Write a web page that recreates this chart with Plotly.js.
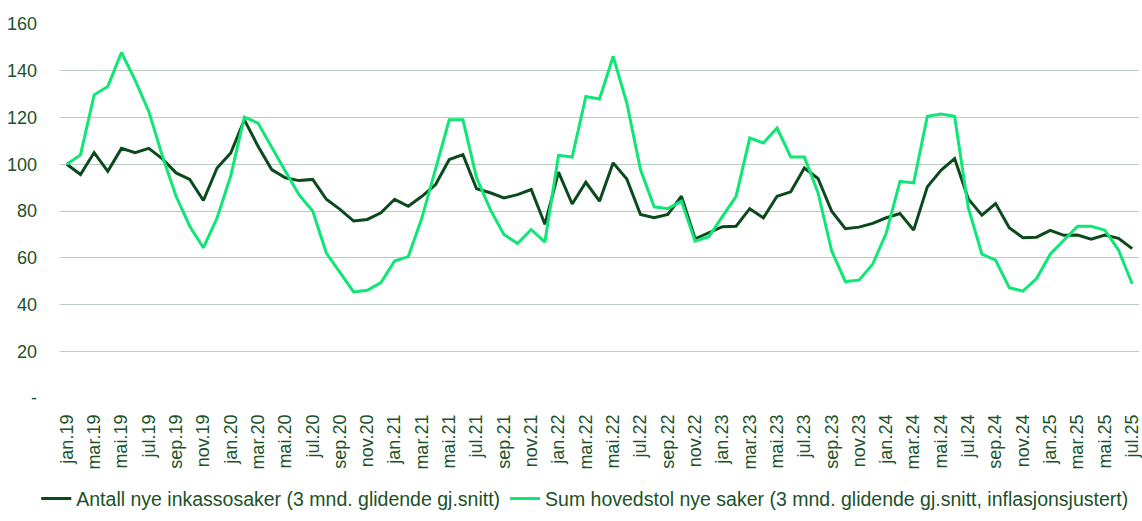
<!DOCTYPE html>
<html>
<head>
<meta charset="utf-8">
<script src="https://cdn.plot.ly/plotly-3.0.1.min.js"></script>
<style>html,body{margin:0;padding:0;background:#fff}#chart{width:1142px;height:521px}</style>
</head>
<body>
<div id="chart"></div>
<script>
const monthNames = ['jan','feb','mar','apr','mai','jun','jul','aug','sep','okt','nov','des'];
const years = ['19','20','21','22','23','24','25'];
const categories = [];
years.forEach(y => monthNames.forEach(m => categories.push(m + '.' + y)));
categories.length = 79; // jan.19 .. jul.25

const antallNyeSaker = [
 100,95.6,105,97,106.8,105,106.8,102.3,96.3,93.5,84.5,98.4,
 104.8,119,107.7,97.7,94.2,93,93.5,85,80.7,75.7,76.4,79.2,
 85,82,86.3,91.3,102,104.1,89.5,87.8,85.6,87,89.2,74.3,
 96.6,83,92.3,84.2,100.6,93.7,78.5,77.1,78.5,86.3,68.1,70.7,
 73.3,73.5,81,77.1,86.3,88.2,98.4,93.9,79.9,72.4,73.1,74.7,
 77.1,78.9,71.8,90.3,97.4,102.4,85.2,78.2,83.2,72.8,68.6,68.8,
 71.7,69.6,69.7,67.9,69.7,68.3,63.9
];
const sumHovedstol = [
 100,104,129.7,133.3,147.8,136,122.6,103.4,86.3,73.5,64.3,77,
 95,120.2,117.6,107,97,87,80,62,53.6,45.4,46.1,49.4,
 58.6,60.5,77.1,98.4,119,119,94.2,80.7,70,66.1,72.1,66.7,
 103.8,103.1,129,127.9,146.1,126.2,97.7,81.8,81,84.2,67.1,69,
 77.8,86.3,111.2,109.1,115.5,103.1,103.1,87.8,62.9,49.8,50.4,57.2,
 70.7,92.7,92,120.5,121.5,120.5,81.4,61.5,59,47.2,45.7,51.1,
 61.5,67.6,73.5,73.5,71.8,63.3,48.9
];
const seriesNames = [
 'Antall nye inkassosaker (3 mnd. glidende gj.snitt)',
 'Sum hovedstol nye saker (3 mnd. glidende gj.snitt, inflasjonsjustert)'
];
const yTickVals = [0,20,40,60,80,100,120,140,160];
const yTickText = ['-','20','40','60','80','100','120','140','160'];

const xIdx = categories.map((_, i) => i);
const xTickVals = xIdx.filter(i => i % 2 === 0);
const xTickText = xTickVals.map(i => categories[i]);

const txtColor = '#1b5227';
const data = [
 {x: xIdx, y: antallNyeSaker, name: seriesNames[0], type: 'scatter', mode: 'lines',
  line: {color: '#0b4a1c', width: 3}},
 {x: xIdx, y: sumHovedstol, name: seriesNames[1], type: 'scatter', mode: 'lines',
  line: {color: '#0fe676', width: 3}}
];
const layout = {
 width: 1142, height: 521,
 margin: {l: 60, r: 3, t: 24, b: 121},
 paper_bgcolor: '#fff', plot_bgcolor: '#fff',
 font: {family: 'Liberation Sans, Arial, sans-serif', size: 18, color: txtColor},
 showlegend: true,
 legend: {orientation: 'h', x: -0.022, xanchor: 'left', y: -0.3218, yanchor: 'bottom',
  font: {size: 19.5, color: txtColor}, itemwidth: 30, tracegroupgap: 0},
 xaxis: {range: [-0.5, 78.5], tickmode: 'array', tickvals: xTickVals, ticktext: xTickText,
  tickangle: -90, showgrid: false, zeroline: false, showline: false, ticks: '',
  ticklabelstandoff: 12, ticklabeloverflow: 'allow',
  tickfont: {size: 18, color: txtColor}, fixedrange: true},
 yaxis: {range: [0, 160], tickmode: 'array', tickvals: yTickVals, ticktext: yTickText,
  showgrid: true, gridcolor: '#bccbbf', gridwidth: 1, zeroline: false, showline: false,
  ticks: '', ticklabelstandoff: 22, tickfont: {size: 18, color: txtColor}, fixedrange: true}
};
Plotly.newPlot('chart', data, layout, {staticPlot: true, displayModeBar: false});
</script>
</body>
</html>
